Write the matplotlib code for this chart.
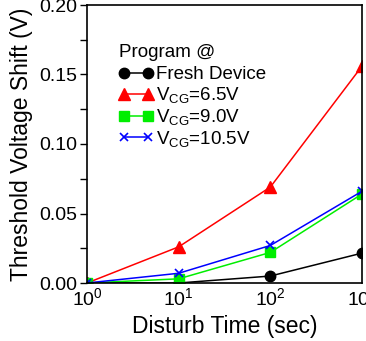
import matplotlib
matplotlib.use("Agg")
import matplotlib.pyplot as plt
from matplotlib.ticker import MultipleLocator, FixedLocator

plt.rcParams['font.family'] = ['Liberation Sans', 'DejaVu Sans']
plt.rcParams['mathtext.fontset'] = 'custom'
plt.rcParams['mathtext.rm'] = 'Liberation Sans'
plt.rcParams['mathtext.it'] = 'Liberation Sans'
plt.rcParams['mathtext.bf'] = 'Liberation Sans'

# disturb time (sec) and threshold voltage shift (V)
time = [1, 10, 100, 1000]
fresh = [0.0, 0.0, 0.005, 0.0215]
vcg_65 = [0.0, 0.026, 0.069, 0.156]
vcg_90 = [0.0, 0.003, 0.022, 0.064]
vcg_105 = [0.0, 0.007, 0.027, 0.066]
xtick_labels = ['$10^{0}$', '$10^{1}$', '$10^{2}$', '$10^{3}$']

fig = plt.figure(figsize=(3.66, 3.41), dpi=100)
ax = fig.add_axes([87/366, 1 - 283/341, 275/366, 278/341])

ax.plot(time, fresh, color='black', marker='o', ms=7.5, lw=1.1, label='Fresh Device')
ax.plot(time, vcg_65, color='red', marker='^', ms=8, lw=1.1, label='V$_{CG}$=6.5V')
ax.plot(time, vcg_90, color='#00ee00', marker='s', ms=6.5, lw=1.1, label='V$_{CG}$=9.0V')
ax.plot(time, vcg_105, color='blue', marker='x', ms=6, mew=1.2, lw=1.1, label='V$_{CG}$=10.5V')

ax.set_xscale('log')
ax.set_xlim(1, 1000)
ax.set_ylim(0, 0.20)
ax.xaxis.set_major_locator(FixedLocator(time))
ax.set_xticklabels(xtick_labels)
ax.xaxis.set_minor_locator(FixedLocator([]))
ax.tick_params(axis='x', length=0, labelsize=14, pad=3)
ax.yaxis.set_major_locator(MultipleLocator(0.05))
ax.yaxis.set_minor_locator(MultipleLocator(0.025))
ax.yaxis.set_major_formatter(plt.FormatStrFormatter('%.2f'))
ax.tick_params(axis='y', which='both', direction='out', length=5, width=1, labelsize=14, pad=2)
for s in ax.spines.values():
    s.set_linewidth(1.2)

ax.set_xlabel('Disturb Time (sec)', fontsize=16.5, labelpad=4)
ax.set_ylabel('Threshold Voltage Shift (V)', fontsize=16.5, labelpad=4.5)

leg = ax.legend(title='Program @', loc='upper left', bbox_to_anchor=(0.115, 0.861),
                frameon=False, fontsize=13.5, title_fontsize=13.5, borderpad=0,
                borderaxespad=0, handlelength=1.85, handletextpad=0.15,
                labelspacing=0.1, numpoints=2, alignment='left')
leg._legend_box.sep = 4

fig.savefig('out.png', dpi=100)
